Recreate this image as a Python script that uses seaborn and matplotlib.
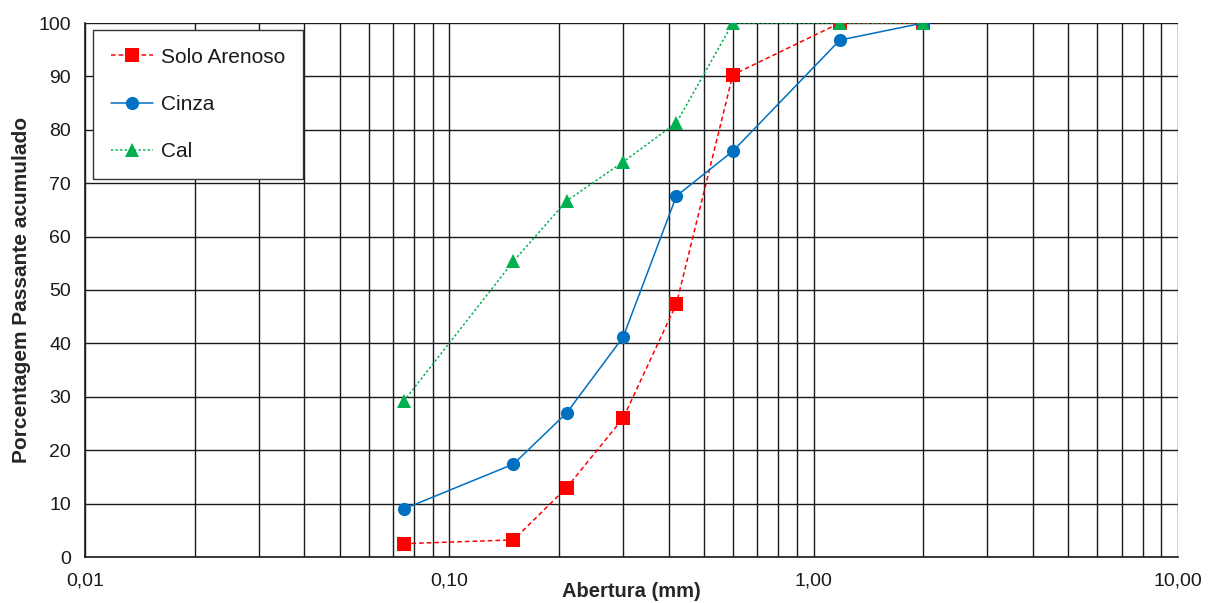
import numpy as np
import pandas as pd
import matplotlib
matplotlib.use("Agg")
import matplotlib.pyplot as plt
from matplotlib.ticker import FixedLocator, LogLocator, NullFormatter
import seaborn as sns

sns.set_theme(style="white")
plt.rcParams['font.family'] = ['Liberation Sans', 'DejaVu Sans']

# %% Dados (abertura das peneiras em mm, % passante acumulado)
abertura = [0.075, 0.15, 0.21, 0.30, 0.42, 0.60, 1.18, 2.00]
solo_arenoso = [2.5, 3.2, 13.0, 26.0, 47.4, 90.3, 100.0, 100.0]
cinza = [9.0, 17.4, 27.0, 41.2, 67.6, 76.0, 96.8, 100.0]
cal = [29.2, 55.4, 66.7, 74.0, 81.3, 100.0, 100.0, 100.0]

x_ticks = [0.01, 0.1, 1, 10]
x_labels = ['0,01', '0,10', '1,00', '10,00']

# %% Gráfico
fig = plt.figure(figsize=(12.17, 6.03), dpi=100)
ax = fig.add_axes([85 / 1217, 1 - 557 / 603, (1178 - 85) / 1217, (557 - 23) / 603])

series = [
    ('Solo Arenoso', solo_arenoso, '#ff0000', 's', (0, (3, 2))),
    ('Cinza', cinza, '#0070c0', 'o', '-'),
    ('Cal', cal, '#00b050', '^', (0, (1.5, 1.5))),
]
for nome, valores, cor, mk, ls in series:
    sns.lineplot(x=abertura, y=valores, ax=ax, color=cor, marker=mk, markersize=9.5,
                 markeredgewidth=0, linestyle=ls, linewidth=1.1, label=nome)
    ax.lines[-1].set_markerfacecolor(cor)

ax.set_xscale('log')
ax.set_xlim(0.01, 10)
ax.set_ylim(0, 100)
ax.set_yticks(range(0, 101, 10))
ax.xaxis.set_major_locator(FixedLocator(x_ticks))
ax.set_xticklabels(x_labels)
ax.xaxis.set_minor_locator(LogLocator(base=10, subs=np.arange(2, 10)))
ax.xaxis.set_minor_formatter(NullFormatter())

ax.grid(True, which='both', color='#1a1a1a', linewidth=1.0)
ax.set_axisbelow(True)
for s in ['top', 'right']:
    ax.spines[s].set_visible(False)
for s in ['left', 'bottom']:
    ax.spines[s].set_color('#1a1a1a')
    ax.spines[s].set_linewidth(1.2)

ax.tick_params(axis='both', which='major', direction='out', length=6, width=1,
               color='#1a1a1a', labelsize=14, labelcolor='#1a1a1a', pad=4)
ax.tick_params(axis='x', which='minor', length=0)
ax.tick_params(axis='x', which='major', pad=5)

ax.set_xlabel('Abertura (mm)', fontsize=14.5, fontweight='bold')
ax.xaxis.set_label_coords(0.5, -0.046)
ax.set_ylabel('Porcentagem Passante acumulado', fontsize=15, fontweight='bold')
ax.yaxis.set_label_coords(-0.049, 0.5)

leg = ax.legend(loc='upper left', bbox_to_anchor=(8 / 1093, 1 - 7 / 534), frameon=True,
                fancybox=False, edgecolor='#333333', framealpha=1, fontsize=15,
                labelspacing=1.35, handlelength=2.05, borderpad=0.85, borderaxespad=0,
                handletextpad=0.35)
leg.get_frame().set_linewidth(1.0)
for t in leg.get_texts():
    t.set_color('#1a1a1a')

fig.savefig('out.png', dpi=100)
